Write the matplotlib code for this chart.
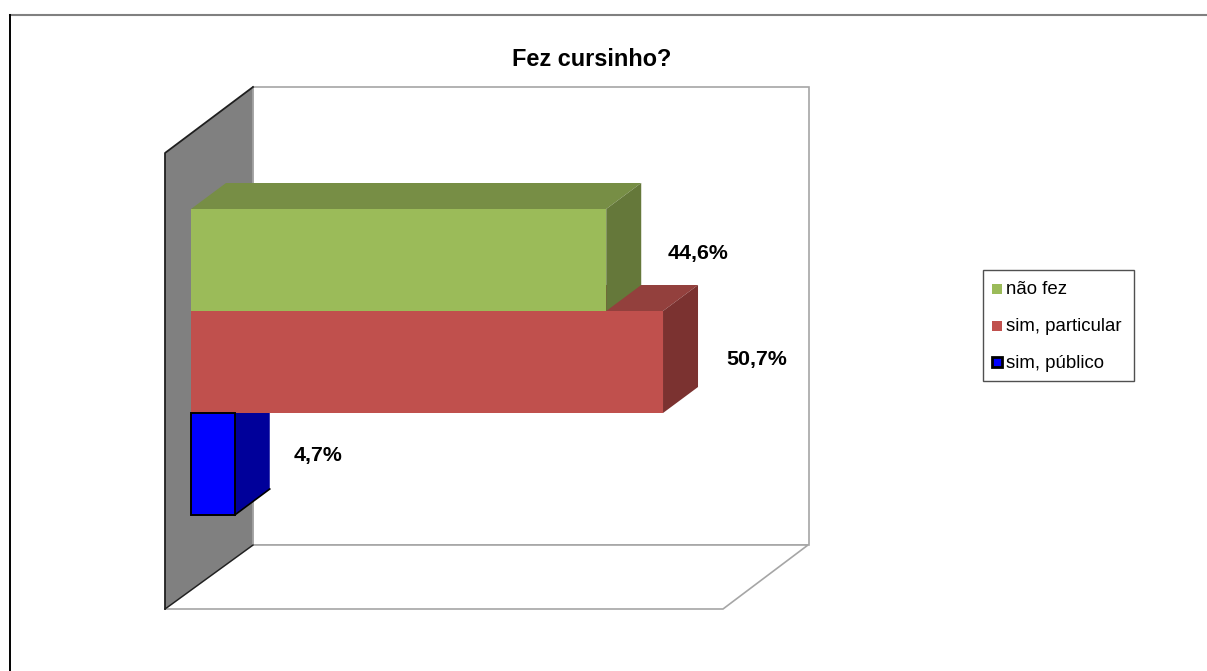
import matplotlib
matplotlib.use("Agg")
import matplotlib.pyplot as plt
from matplotlib.patches import Polygon, Rectangle

plt.rcParams['font.family'] = ['Liberation Sans', 'DejaVu Sans']

title = "Fez cursinho?"
categories = ["não fez", "sim, particular", "sim, público"]
values = [44.6, 50.7, 4.7]
value_labels = ["44,6%", "50,7%", "4,7%"]

front_colors = ["#9BBB59", "#C0504D", "#0000FF"]
top_colors = ["#778E45", "#93403D", "#0000B0"]
side_colors = ["#65783A", "#7B3230", "#00009A"]
edge_colors = [None, None, "black"]

fig = plt.figure(figsize=(12.07, 6.71), dpi=100)
ax = fig.add_axes([0, 0, 1, 1])
ax.set_xlim(0, 1207)
ax.set_ylim(671, 0)
ax.axis('off')

# scale of the value axis, in pixels
x0 = 191
px_per_unit = 9.31
bar_top = 209
bar_h = 102
dx = 35
dy = 26

# where the value labels sit relative to the bar end
label_dx = [61, 63, 59]
label_dy = [45, 48, 43]

# outer border of the chart, only top and left show
ax.plot([10, 1207], [15, 15], color='#808080', lw=1.5, zorder=1)
ax.plot([10, 10], [15, 671], color='black', lw=1.4, zorder=1)

# 3d box behind the bars
ax.add_patch(Polygon([(253, 87), (809, 87), (809, 545), (253, 545)], fc='white', ec='#A6A6A6', lw=1.2, zorder=2))
ax.add_patch(Polygon([(165, 609), (723, 609), (808, 545), (253, 545)], fc='white', ec='#A6A6A6', lw=1.2, zorder=2))
ax.add_patch(Polygon([(165, 153), (253, 87), (253, 545), (165, 609)], fc='#808080', ec='none', zorder=3))
ax.plot([253, 253], [87, 545], color='#A6A6A6', lw=1.2, zorder=3)
ax.plot([165, 165, 253], [609, 153, 87], color='#202020', lw=1.3, zorder=3)
ax.plot([165, 253], [609, 545], color='#202020', lw=1.0, zorder=3)

# bars, each one front + top + side, lowest one first so upper bars cover its top
for i in reversed(range(len(values))):
    y = bar_top + i * bar_h
    x1 = x0 + values[i] * px_per_unit
    ec = edge_colors[i] if edge_colors[i] else 'none'
    lw = 1.4 if edge_colors[i] else 0
    z = 4 + (len(values) - i)
    ax.add_patch(Polygon([(x0, y), (x0 + dx, y - dy), (x1 + dx, y - dy), (x1, y)], fc=top_colors[i], ec='none', zorder=z))
    ax.add_patch(Polygon([(x1, y), (x1 + dx, y - dy), (x1 + dx, y + bar_h - dy), (x1, y + bar_h)], fc=side_colors[i], ec='none', zorder=z))
    # outlined front goes over the bar above it
    front_z = 8 if edge_colors[i] else z + 0.5
    ax.add_patch(Rectangle((x0, y), x1 - x0, bar_h, fc=front_colors[i], ec=ec, lw=lw, zorder=front_z))
    if edge_colors[i]:
        ax.plot([x1, x1 + dx], [y + bar_h, y + bar_h - dy], color=ec, lw=1.2, zorder=front_z)
    ax.text(x1 + label_dx[i], y + label_dy[i], value_labels[i], fontsize=15.4, fontweight='bold', va='center', ha='left', zorder=10)

ax.text(592, 59, title, fontsize=16.9, fontweight='bold', ha='center', va='center', zorder=10)

# legend
ax.add_patch(Rectangle((983, 270), 151, 111, fc='white', ec='#505050', lw=1.0, zorder=8))
for i, name in enumerate(categories):
    ly = 289 + i * 36.5
    ec = edge_colors[i] if edge_colors[i] else 'none'
    ax.add_patch(Rectangle((992, ly - 5), 10, 10, fc=front_colors[i], ec=ec, lw=2.0 if edge_colors[i] else 0, zorder=9))
    ax.text(1006, ly + 1, name, fontsize=13.4, va='center', ha='left', zorder=10)

fig.savefig("out.png", dpi=100)
